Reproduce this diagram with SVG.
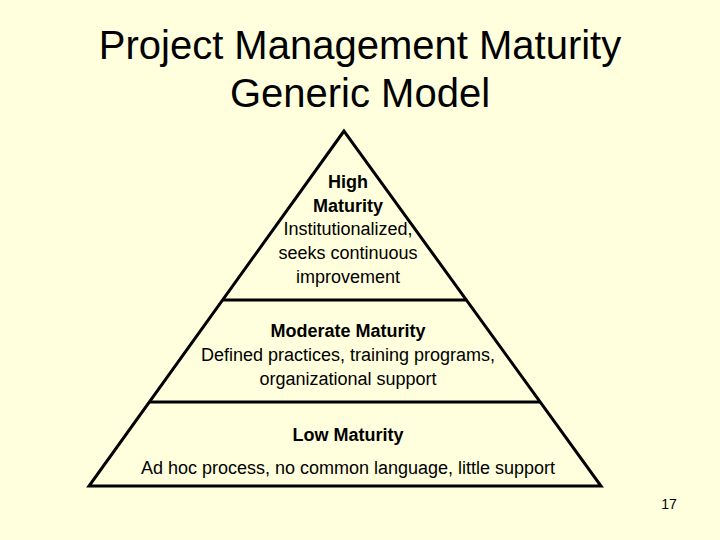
<svg xmlns="http://www.w3.org/2000/svg" width="720" height="540" viewBox="0 0 720 540">
<style>
.title{font-family:"Liberation Sans",Arial,sans-serif;font-size:40px;fill:#000;text-anchor:middle}
.t{font-family:"Liberation Sans",Arial,sans-serif;font-size:18px;fill:#000;text-anchor:middle}
.b{font-weight:bold}
.ln{stroke:#000;stroke-width:3;fill:none}
</style>
<rect width="720" height="540" fill="#FFFFDD"/>
<text class="title" x="360" y="59">Project Management Maturity</text>
<text class="title" x="360" y="107">Generic Model</text>
<g id="connectors">
<polygon class="ln" points="344,131 89,486 601,486" stroke-linejoin="miter"/>
<line class="ln" x1="222" y1="300" x2="467" y2="300"/>
<line class="ln" x1="149" y1="402" x2="540" y2="402"/>
</g>
<g id="high">
<text class="t b" x="348" y="188">High</text>
<text class="t b" x="348" y="212">Maturity</text>
<text class="t" x="348" y="235">Institutionalized,</text>
<text class="t" x="348" y="259">seeks continuous</text>
<text class="t" x="348" y="283">improvement</text>
</g>
<g id="moderate">
<text class="t b" x="348" y="337">Moderate Maturity</text>
<text class="t" x="348" y="361">Defined practices, training programs,</text>
<text class="t" x="348" y="385">organizational support</text>
</g>
<g id="low">
<text class="t b" x="348" y="441">Low Maturity</text>
<text class="t" x="348" y="474">Ad hoc process, no common language, little support</text>
</g>
<text x="669" y="509" font-family="Liberation Sans, Arial, sans-serif" font-size="14" text-anchor="middle">17</text>
</svg>
